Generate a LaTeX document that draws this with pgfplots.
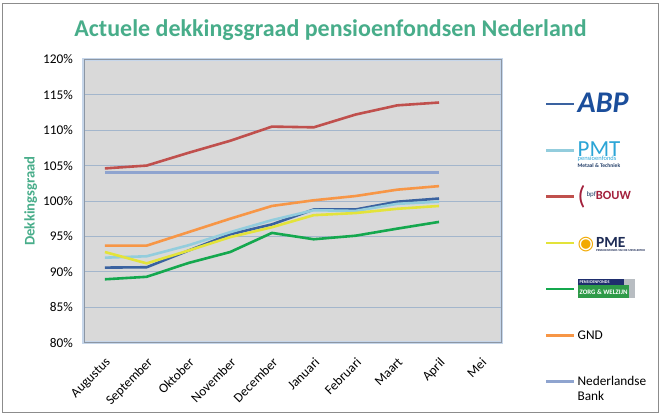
\documentclass[border=0pt]{standalone}
\usepackage{pgfplots}
\pgfplotsset{compat=1.18}
\usepackage{fontspec}
\setmainfont{Carlito}
\newfontfamily\dejavu{DejaVu Sans}
\definecolor{titlegreen}{HTML}{48AD8A}
\definecolor{plotbg}{HTML}{D9D9D9}
\definecolor{gridc}{HTML}{A3B6CC}
\definecolor{axisc}{HTML}{8C96A3}
\definecolor{glowc}{HTML}{C6D6EA}
\definecolor{framec}{HTML}{8C8C8C}
\definecolor{cABP}{HTML}{3A62A0}
\definecolor{cPMT}{HTML}{93CDDD}
\definecolor{cBOUW}{HTML}{C0504D}
\definecolor{cPME}{HTML}{E3E33A}
\definecolor{cZW}{HTML}{14A84E}
\definecolor{cGND}{HTML}{F79646}
\definecolor{cNB}{HTML}{8FA4CF}
\definecolor{abplogo}{HTML}{1B4E9B}
\definecolor{pmtlogo}{HTML}{2BA5D6}
\definecolor{pmtnavy}{HTML}{1F3B66}
\definecolor{bouwred}{HTML}{A3203C}
\definecolor{pmeyellow}{HTML}{F2A900}
\definecolor{pmenavy}{HTML}{1D2B55}
\definecolor{zwnavy}{HTML}{1F2E6E}
\definecolor{zwgreen}{HTML}{2E9A48}
\definecolor{zwgray}{HTML}{B8BDC2}

\newcommand{\ABPlogo}{\smash{\raisebox{-9.7bp}{\textcolor{abplogo}{\fontsize{30bp}{30bp}\selectfont\bfseries\itshape ABP}}}}
\newcommand{\PMTlogo}{\smash{\makebox[0pt][l]{\raisebox{-11bp}[0pt][0pt]{\textcolor{pmtlogo}{\fontsize{6.5bp}{6.5bp}\selectfont pensioenfonds}}}\makebox[0pt][l]{\raisebox{-17.5bp}[0pt][0pt]{\textcolor{pmtnavy}{\fontsize{5.5bp}{5.5bp}\selectfont\bfseries Metaal \& Techniek}}}\raisebox{-7.4bp}{\textcolor{pmtlogo}{\fontsize{23bp}{23bp}\selectfont PMT}}}}
\newcommand{\BOUWlogo}{\smash{\raisebox{-9bp}{\textcolor{bouwred}{\fontsize{26bp}{26bp}\selectfont(}}\hspace{1bp}\raisebox{-1bp}{\textcolor{pmtnavy}{\fontsize{7bp}{7bp}\selectfont bpf}}\raisebox{-4bp}{\textcolor{bouwred}{\fontsize{12.5bp}{12.5bp}\selectfont\bfseries BOUW}}}}
\newcommand{\PMElogo}{\smash{\raisebox{-7bp}{\textcolor{pmeyellow}{\dejavu\fontsize{19bp}{19bp}\selectfont ◉}}\hspace{2bp}\makebox[0pt][l]{\raisebox{-9.5bp}[0pt][0pt]{\textcolor{pmenavy}{\fontsize{3bp}{3bp}\selectfont\bfseries PENSIOENFONDS VAN DE METALEKTRO}}}\raisebox{-5bp}{\textcolor{pmenavy}{\fontsize{15.5bp}{15.5bp}\selectfont\bfseries PME}}}}
\newcommand{\ZWlogo}{\smash{\raisebox{-6.5bp}{\setlength{\fboxsep}{0pt}\vbox{\offinterlineskip
 \hbox{\colorbox{zwnavy}{\makebox[46bp][l]{\rule[-1.5bp]{0pt}{6bp}\hspace{2bp}\color{white}\fontsize{4.2bp}{5bp}\selectfont\bfseries PENSIOENFONDS}}\colorbox{zwgray}{\rule{11bp}{0pt}\rule[-1.5bp]{0pt}{6bp}}}
 \hbox{\colorbox{zwgreen}{\makebox[51bp][l]{\rule[-3bp]{0pt}{13bp}\hspace{2bp}\color{white}\fontsize{6.8bp}{7bp}\selectfont\bfseries ZORG \& WELZIJN}}\colorbox{zwgray}{\rule{6bp}{0pt}\rule[-3bp]{0pt}{13bp}}}}}}}

\begin{document}
\begin{tikzpicture}
\useasboundingbox (-84bp,-74.3bp) rectangle (579bp,342.7bp);
\draw[framec, line width=0.9bp] (-81.5bp,-69.3bp) rectangle (574bp,339.7bp);
\begin{axis}[
  at={(0,0)}, anchor=south west,
  scale only axis, width=417.7bp, height=283.4bp,
  xmin=-0.5, xmax=9.5, ymin=80, ymax=120,
  xtick={0,...,9},
  xticklabels={Augustus,September,Oktober,November,December,Januari,Februari,Maart,April,Mei},
  ytick={80,85,...,120},
  yticklabel={\pgfmathprintnumber{\tick}\%},
  /pgf/number format/assume math mode=true,
  major tick length=0pt,
  ymajorgrids, grid style={draw=gridc, line width=0.8bp},
  axis background/.style={fill=plotbg, draw=glowc, line width=3bp},
  axis line style={draw=axisc, line width=0.8bp},
  tick label style={font=\fontsize{13.3bp}{16bp}\selectfont, color=black},
  xticklabel style={rotate=45, anchor=north east, inner sep=0pt},
  xticklabel shift=14bp,
  yticklabel style={xshift=-7.6bp},
  ylabel={Dekkingsgraad},
  every axis y label/.style={at={(axis description cs:-0.1276,0.5)}, rotate=90, anchor=center, font=\bfseries\fontsize{14.7bp}{17bp}\selectfont, color=titlegreen},
  every axis plot/.append style={line width=2.6bp, line join=round, no markers},
  clip=false,
  legend cell align=left,
  legend style={at={(rel axis cs:1.1037,0.8469)}, anchor=north west, draw=none, fill=none, inner sep=0pt, outer sep=0pt, row sep=43.7bp, column sep=2bp, nodes={inner sep=0pt, outer sep=0pt}, font=\fontsize{13.3bp}{16bp}\selectfont},
  legend image code/.code={\draw[#1] (0bp,0bp) -- (28bp,0bp);},
]
\addplot[cABP] coordinates {(0,90.6) (1,90.65) (2,93.0) (3,95.3) (4,96.7) (5,98.8) (6,98.8) (7,99.9) (8,100.35)};
\addlegendentry{\ABPlogo}
\addplot[cPMT] coordinates {(0,92.0) (1,92.2) (2,93.75) (3,95.6) (4,97.3) (5,98.7) (6,98.6) (7,99.6) (8,99.9)};
\addlegendentry{\PMTlogo}
\addplot[cBOUW] coordinates {(0,104.6) (1,105.0) (2,106.8) (3,108.5) (4,110.5) (5,110.4) (6,112.2) (7,113.5) (8,113.9)};
\addlegendentry{\BOUWlogo}
\addplot[cPME] coordinates {(0,92.8) (1,91.2) (2,93.0) (3,94.9) (4,96.3) (5,98.0) (6,98.3) (7,98.9) (8,99.3)};
\addlegendentry{\PMElogo}
\addplot[cZW] coordinates {(0,88.95) (1,89.3) (2,91.25) (3,92.8) (4,95.5) (5,94.6) (6,95.1) (7,96.1) (8,97.05)};
\addlegendentry{\ZWlogo}
\addplot[cGND] coordinates {(0,93.7) (1,93.7) (2,95.6) (3,97.5) (4,99.3) (5,100.1) (6,100.7) (7,101.6) (8,102.1)};
\addlegendentry{\smash{\raisebox{-4.3bp}{GND}}}
\addplot[cNB] coordinates {(0,104) (1,104) (2,104) (3,104) (4,104) (5,104) (6,104) (7,104) (8,104)};
\addlegendentry{\smash{\makebox[0pt][l]{\raisebox{-19.3bp}{Bank}}\raisebox{-4.3bp}{Nederlandse}}}
\end{axis}
\node[anchor=base, font=\bfseries\fontsize{24bp}{28bp}\selectfont, text=titlegreen, inner sep=0pt] at (246.5bp,306bp) {Actuele dekkingsgraad pensioenfondsen Nederland};
\end{tikzpicture}
\end{document}
